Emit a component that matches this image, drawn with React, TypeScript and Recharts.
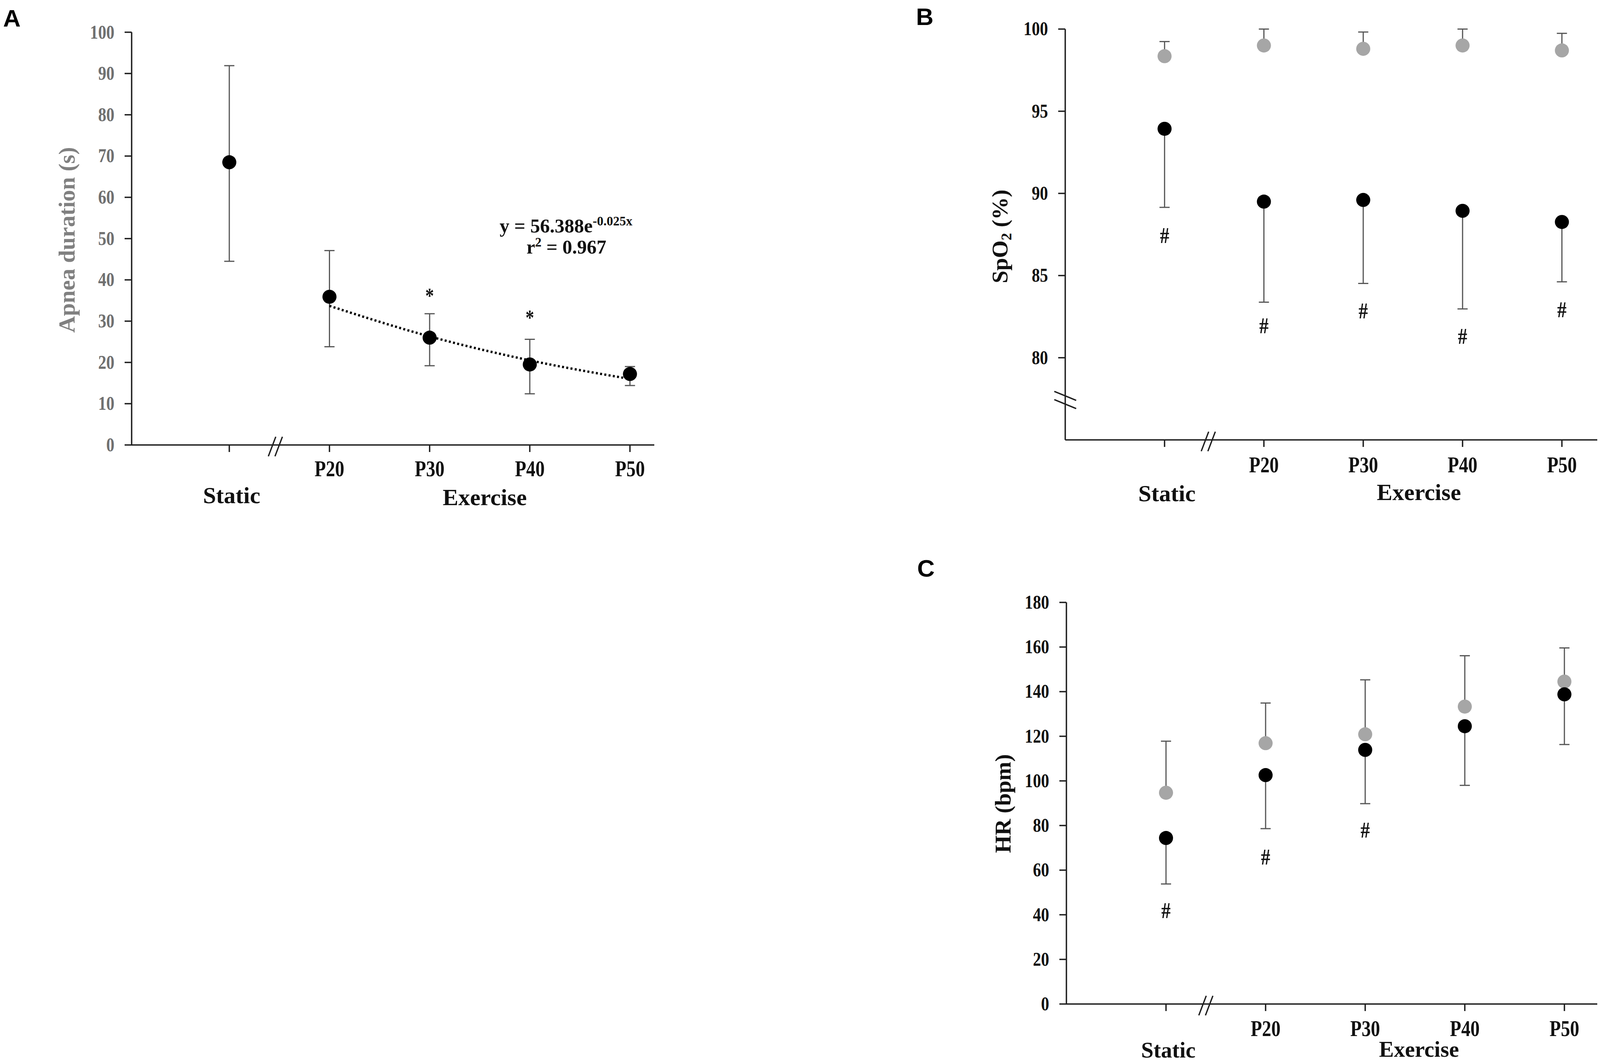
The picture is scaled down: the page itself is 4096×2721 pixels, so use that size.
import React from 'react';
import { ComposedChart, Scatter, Line, XAxis, YAxis, ErrorBar, ReferenceDot } from 'recharts';

// ---------- data ----------
const categories = ['Static', 'P20', 'P30', 'P40', 'P50'];
const catPos = [1, 2, 3, 4, 5];

// Panel A – apnea duration (s)
const apneaMean = [68.5, 35.9, 26.0, 19.5, 17.2];
const apneaLow = [44.5, 23.8, 19.2, 12.4, 14.4];
const apneaHigh = [91.9, 47.1, 31.8, 25.6, 19.0];
const apneaTrendPos = [2, 3, 4, 5];
const apneaTrend = [33.7, 26.3, 20.5, 16.0];
const apneaStarPos = [3, 4];
const apneaStarY = [36.9, 31.6];
const apneaTicks = [0, 10, 20, 30, 40, 50, 60, 70, 80, 90, 100];

// Panel B – SpO2 (%)
const spo2Rest = [98.35, 99.0, 98.8, 99.0, 98.7];
const spo2RestHigh = [99.24, 100, 99.82, 100, 99.74];
const spo2Apnea = [93.93, 89.5, 89.6, 88.94, 88.26];
const spo2ApneaLow = [89.15, 83.38, 84.52, 82.97, 84.62];
const spo2HashPos = [1, 2, 3, 4, 5];
const spo2HashY = [87.46, 81.97, 82.87, 81.31, 82.93];
const spo2Ticks = [80, 85, 90, 95, 100];

// Panel C – HR (bpm)
const hrRest = [94.7, 116.9, 120.9, 133.3, 144.5];
const hrRestHigh = [117.8, 134.9, 145.3, 156.1, 159.6];
const hrApnea = [74.4, 102.6, 113.9, 124.5, 138.8];
const hrApneaLow = [53.8, 78.6, 89.8, 98.0, 116.3];
const hrHashPos = [1, 2, 3];
const hrHashY = [42, 66, 78];
const hrTicks = [0, 20, 40, 60, 80, 100, 120, 140, 160, 180];

// ---------- derived tables ----------
const aData = catPos.map((x, i) => ({ x, y: apneaMean[i], err: [apneaMean[i] - apneaLow[i], apneaHigh[i] - apneaMean[i]] }));
const aTrend = apneaTrendPos.map((x, i) => ({ x, y: apneaTrend[i] }));
const aStars = apneaStarPos.map((x, i) => ({ x, y: apneaStarY[i] }));

const bRest = catPos.map((x, i) => ({ x, y: spo2Rest[i], err: [0, spo2RestHigh[i] - spo2Rest[i]] }));
const bApnea = catPos.map((x, i) => ({ x, y: spo2Apnea[i], err: [spo2Apnea[i] - spo2ApneaLow[i], 0] }));
const bHash = spo2HashPos.map((x, i) => ({ x, y: spo2HashY[i] }));

const cRest = catPos.map((x, i) => ({ x, y: hrRest[i], err: [0, hrRestHigh[i] - hrRest[i]] }));
const cApnea = catPos.map((x, i) => ({ x, y: hrApnea[i], err: [hrApnea[i] - hrApneaLow[i], 0] }));
const cHash = hrHashPos.map((x, i) => ({ x, y: hrHashY[i] }));

// ---------- styles ----------
const SERIF = "'Liberation Serif', 'Times New Roman', serif";
const SANS = "'Liberation Sans', Arial, sans-serif";
const AXIS = '#1e1e1e';
const ERR = '#555555';
const GRAY_DOT = '#a6a6a6';

const dotShape = (fill: string) => (p: any) => <circle cx={p.cx} cy={p.cy} r={18} fill={fill} />;
const noShape = () => <g />;
const markShape = (ch: string, fs: number, lift: number) => (p: any) => (
  <g transform={`translate(${p.cx},${p.cy}) scale(0.82,1)`}>
    <text x={0} y={fs * lift} textAnchor="middle" fontFamily={SERIF} fontWeight="bold" fontSize={fs} fill="#111">{ch}</text>
  </g>
);

const makeYTick = (color: string) => (props: any) => {
  const { x, y, payload } = props;
  return (
    <g transform={`translate(${x - 26},${y}) scale(0.82,1)`}>
      <text x={0} y={0} dy={16} textAnchor="end" fontFamily={SERIF} fontWeight="bold" fontSize={51} fill={color}>{payload.value}</text>
    </g>
  );
};

const makeXTick = (pDy: number, sDy: number, sFs: number) => (props: any) => {
  const { x, y, payload } = props;
  const i = catPos.indexOf(payload.value);
  if (i === 0) {
    return <text x={x + 6} y={y + sDy} textAnchor="middle" fontFamily={SERIF} fontWeight="bold" fontSize={sFs} fill="#111">{categories[0]}</text>;
  }
  return (
    <g transform={`translate(${x},${y + pDy}) scale(0.83,1)`}>
      <text x={0} y={0} textAnchor="middle" fontFamily={SERIF} fontWeight="bold" fontSize={57} fill="#111">{categories[i]}</text>
    </g>
  );
};

const groupLabel = (dy: number, fs: number) => (p: any) => (
  <text x={p.cx} y={p.cy + dy} textAnchor="middle" fontFamily={SERIF} fontWeight="bold" fontSize={fs} fill="#111">Exercise</text>
);

const xBreak = (p: any) => (
  <g stroke={AXIS} strokeWidth={3.5}>
    <line x1={p.cx - 18} y1={p.cy + 29} x2={p.cx + 1} y2={p.cy - 21} />
    <line x1={p.cx - 1} y1={p.cy + 29} x2={p.cx + 18} y2={p.cy - 21} />
  </g>
);

const yBreak = (p: any) => (
  <g stroke={AXIS} strokeWidth={3.5}>
    <line x1={p.cx - 28} y1={p.cy - 22} x2={p.cx + 28} y2={p.cy + 1} />
    <line x1={p.cx - 28} y1={p.cy - 1} x2={p.cx + 28} y2={p.cy + 22} />
  </g>
);

const axisLine = { stroke: AXIS, strokeWidth: 3.5 };
const tickLine = { stroke: AXIS, strokeWidth: 3.5 };

function PanelA() {
  return (
    <ComposedChart width={1760} height={1339} margin={{ top: 82.5, right: 85, bottom: 0, left: 0 }}>
      <XAxis type="number" dataKey="x" domain={[0.025, 5.243]} allowDataOverflow ticks={catPos} interval={0}
        tick={makeXTick(62, 131, 60)} tickLine={tickLine} axisLine={axisLine} tickSize={18} tickMargin={0} height={200} />
      <YAxis type="number" dataKey="y" domain={[0, 100]} allowDataOverflow ticks={apneaTicks} interval={0}
        tick={makeYTick('#707070')} tickLine={tickLine} axisLine={axisLine} tickSize={18} tickMargin={0} width={337} />
      <Scatter data={aData} shape={noShape} isAnimationActive={false}>
        <ErrorBar dataKey="err" direction="y" width={13} strokeWidth={3} stroke={ERR} />
      </Scatter>
      <Line data={aTrend} dataKey="y" type="monotone" stroke="#000" strokeWidth={6} strokeDasharray="5 6" dot={false} activeDot={false} isAnimationActive={false} />
      <Scatter data={aData} shape={dotShape('#000')} isAnimationActive={false} />
      <Scatter data={aStars} shape={markShape('*', 54, 0.47)} isAnimationActive={false} />
      <ReferenceDot x={1.46} y={0} r={0} ifOverflow="visible" shape={xBreak} />
      <ReferenceDot x={3.55} y={0} r={0} ifOverflow="visible" shape={groupLabel(154, 60)} />
    </ComposedChart>
  );
}

function PanelB() {
  return (
    <ComposedChart width={1796} height={1306} margin={{ top: 74.4, right: 7, bottom: 0, left: 0 }}>
      <XAxis type="number" dataKey="x" domain={[0, 5.356]} allowDataOverflow ticks={catPos} interval={0}
        tick={makeXTick(64.5, 139, 60)} tickLine={tickLine} axisLine={axisLine} tickSize={18} tickMargin={0} height={180} />
      <YAxis type="number" dataKey="y" domain={[75, 100]} allowDataOverflow ticks={spo2Ticks} interval={0}
        tick={makeYTick('#111')} tickLine={tickLine} axisLine={axisLine} tickSize={18} tickMargin={0} width={427} />
      <Scatter data={bRest} shape={noShape} isAnimationActive={false}>
        <ErrorBar dataKey="err" direction="y" width={13} strokeWidth={3} stroke={ERR} />
      </Scatter>
      <Scatter data={bApnea} shape={noShape} isAnimationActive={false}>
        <ErrorBar dataKey="err" direction="y" width={13} strokeWidth={3} stroke={ERR} />
      </Scatter>
      <Scatter data={bRest} shape={dotShape(GRAY_DOT)} isAnimationActive={false} />
      <Scatter data={bApnea} shape={dotShape('#000')} isAnimationActive={false} />
      <Scatter data={bHash} shape={markShape('#', 58, 0.34)} isAnimationActive={false} />
      <ReferenceDot x={1.44} y={75} r={0} ifOverflow="visible" shape={xBreak} />
      <ReferenceDot x={0} y={77.43} r={0} ifOverflow="visible" shape={yBreak} />
      <ReferenceDot x={3.56} y={75} r={0} ifOverflow="visible" shape={groupLabel(154, 60)} />
    </ComposedChart>
  );
}

function PanelC() {
  return (
    <ComposedChart width={1796} height={1321} margin={{ top: 142, right: 7, bottom: 0, left: 0 }}>
      <XAxis type="number" dataKey="x" domain={[0, 5.33]} allowDataOverflow ticks={catPos} interval={0}
        tick={makeXTick(63.5, 119, 57)} tickLine={tickLine} axisLine={axisLine} tickSize={18} tickMargin={0} height={151} />
      <YAxis type="number" dataKey="y" domain={[0, 180]} allowDataOverflow ticks={hrTicks} interval={0}
        tick={makeYTick('#111')} tickLine={tickLine} axisLine={axisLine} tickSize={18} tickMargin={0} width={430} />
      <Scatter data={cRest} shape={noShape} isAnimationActive={false}>
        <ErrorBar dataKey="err" direction="y" width={13} strokeWidth={3} stroke={ERR} />
      </Scatter>
      <Scatter data={cApnea} shape={noShape} isAnimationActive={false}>
        <ErrorBar dataKey="err" direction="y" width={13} strokeWidth={3} stroke={ERR} />
      </Scatter>
      <Scatter data={cRest} shape={dotShape(GRAY_DOT)} isAnimationActive={false} />
      <Scatter data={cApnea} shape={dotShape('#000')} isAnimationActive={false} />
      <Scatter data={cHash} shape={markShape('#', 58, 0.34)} isAnimationActive={false} />
      <ReferenceDot x={1.4} y={0} r={0} ifOverflow="visible" shape={xBreak} />
      <ReferenceDot x={3.54} y={0} r={0} ifOverflow="visible" shape={groupLabel(135, 57)} />
    </ComposedChart>
  );
}

export default function App() {
  return (
    <div style={{ position: 'absolute', left: 0, top: 0, width: 4096, height: 2721, background: '#fff', overflow: 'hidden' }}>
      <div style={{ position: 'absolute', left: 0, top: 0 }}><PanelA /></div>
      <div style={{ position: 'absolute', left: 2300, top: 0 }}><PanelB /></div>
      <div style={{ position: 'absolute', left: 2300, top: 1400 }}><PanelC /></div>
      <svg width={4096} height={2721} style={{ position: 'absolute', left: 0, top: 0, pointerEvents: 'none' }}>
        <text x={8} y={68} fontFamily={SANS} fontWeight="bold" fontSize={62} fill="#000">A</text>
        <text x={2345} y={64} fontFamily={SANS} fontWeight="bold" fontSize={62} fill="#000">B</text>
        <text x={2348} y={1476} fontFamily={SANS} fontWeight="bold" fontSize={62} fill="#000">C</text>
        <text transform="translate(191,614) rotate(-90)" textAnchor="middle" fontFamily={SERIF} fontWeight="bold" fontSize={59} fill="#808080">Apnea duration (s)</text>
        <text transform="translate(2579,605) rotate(-90)" textAnchor="middle" fontFamily={SERIF} fontWeight="bold" fontSize={58} fill="#111">
          SpO<tspan fontSize={38} dy={10}>2</tspan><tspan dy={-10}> (%)</tspan>
        </text>
        <text transform="translate(2587,2057) rotate(-90)" textAnchor="middle" fontFamily={SERIF} fontWeight="bold" fontSize={58} fill="#111">HR (bpm)</text>
        <text x={1449} y={595} textAnchor="middle" fontFamily={SERIF} fontWeight="bold" fontSize={50} fill="#111">
          y = 56.388e<tspan fontSize={33} dy={-18}>-0.025x</tspan>
        </text>
        <text x={1450} y={649} textAnchor="middle" fontFamily={SERIF} fontWeight="bold" fontSize={50} fill="#111">
          r<tspan fontSize={33} dy={-18}>2</tspan><tspan dy={18}> = 0.967</tspan>
        </text>
      </svg>
    </div>
  );
}
